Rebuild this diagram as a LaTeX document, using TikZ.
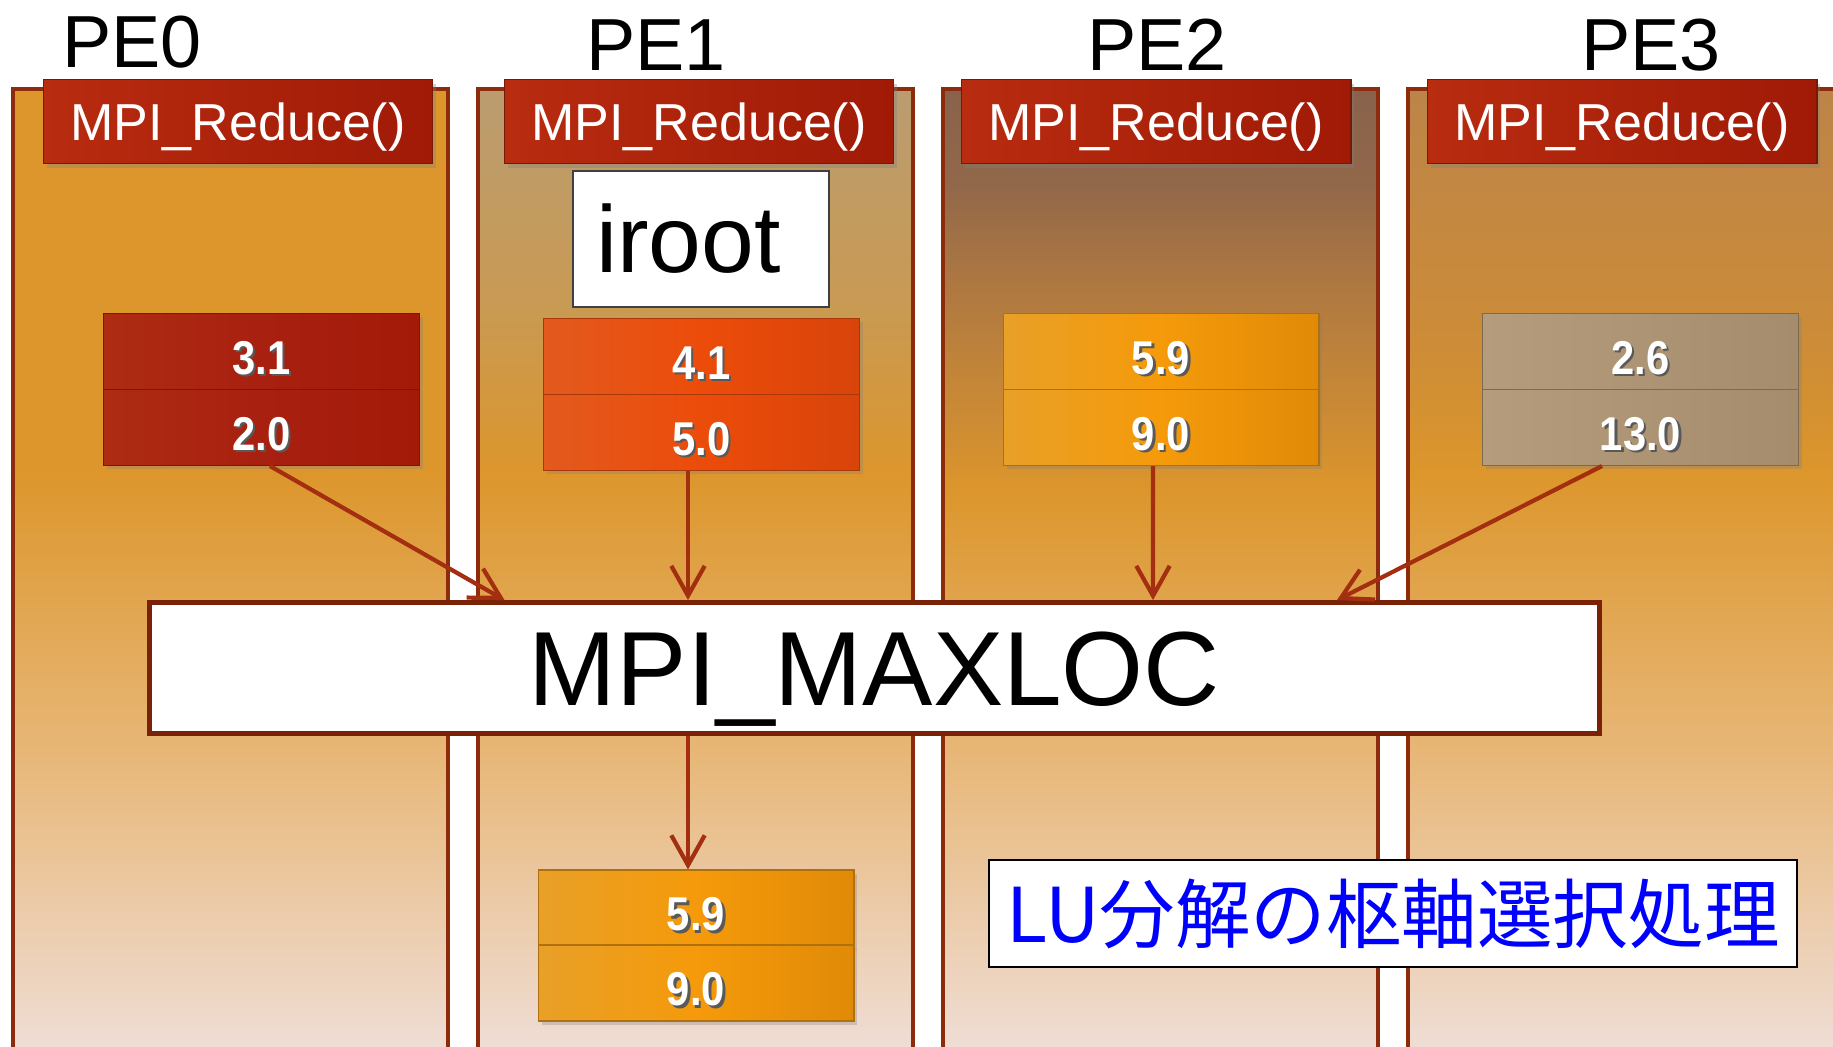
\documentclass[tikz,border=0pt]{standalone}
\usepackage{fontspec}
\setmainfont{Liberation Sans}
\newfontfamily\jpfont{Noto Sans CJK JP}
\newfontfamily\numfont[FakeStretch=0.88]{Liberation Sans}
\usetikzlibrary{arrows.meta,shadows,calc}

\definecolor{colframe}{HTML}{8C2C0C}
\definecolor{pale}{HTML}{EFDDD5}
\definecolor{midtan}{HTML}{E8B87A}
\definecolor{orng}{HTML}{DC962C}
\definecolor{tantop}{HTML}{BA9C70}
\definecolor{tanmid}{HTML}{C89A54}
\definecolor{brntop}{HTML}{88624C}
\definecolor{brnupper}{HTML}{92684A}
\definecolor{brnmid}{HTML}{B27A40}
\definecolor{amtop}{HTML}{BC8448}
\definecolor{ammid}{HTML}{CC8C38}
\definecolor{redl}{HTML}{B82C10}
\definecolor{redr}{HTML}{A01A06}
\definecolor{redframe}{HTML}{7A1808}
\definecolor{arrowred}{HTML}{A32E10}
\definecolor{maxframe}{HTML}{7A2208}
\definecolor{lublue}{HTML}{0000FF}
% value cells
\definecolor{crimL}{HTML}{AE2C12}
\definecolor{crimM}{HTML}{A82010}
\definecolor{crimR}{HTML}{A31A08}
\definecolor{flameL}{HTML}{E25A1E}
\definecolor{flameM}{HTML}{EC4C0A}
\definecolor{flameR}{HTML}{D8440A}
\definecolor{flameF}{HTML}{A8380A}
\definecolor{ambL}{HTML}{E8A028}
\definecolor{ambM}{HTML}{F59A0A}
\definecolor{ambR}{HTML}{E08A08}
\definecolor{ambF}{HTML}{B07010}
\definecolor{khakiL}{HTML}{B49C7C}
\definecolor{khakiM}{HTML}{AC9474}
\definecolor{khakiR}{HTML}{A48C6C}
\definecolor{khakiF}{HTML}{7E6A50}

% column backgrounds (bottom -> top)
\pgfdeclareverticalshading{colzero}{100bp}{color(0bp)=(pale); color(25bp)=(pale);
  color(40bp)=(midtan); color(55bp)=(orng); color(75bp)=(orng); color(100bp)=(orng)}
\pgfdeclareverticalshading{colone}{100bp}{color(0bp)=(pale); color(25bp)=(pale);
  color(40bp)=(midtan); color(55bp)=(orng); color(64bp)=(tanmid); color(75bp)=(tantop); color(100bp)=(tantop)}
\pgfdeclareverticalshading{coltwo}{100bp}{color(0bp)=(pale); color(25bp)=(pale);
  color(40bp)=(midtan); color(54bp)=(orng); color(64bp)=(brnmid); color(70bp)=(brnupper); color(75bp)=(brntop); color(100bp)=(brntop)}
\pgfdeclareverticalshading{colthree}{100bp}{color(0bp)=(pale); color(25bp)=(pale);
  color(40bp)=(midtan); color(55bp)=(orng); color(62bp)=(ammid); color(75bp)=(amtop); color(100bp)=(amtop)}

% white digits with a dark shadow
\newcommand\emb[1]{\makebox[0pt][l]{\hspace{1.3pt}\raisebox{-1.3pt}{\textcolor{black!65}{#1}}}#1}

\begin{document}
\begin{tikzpicture}[x=0.02cm,y=-0.02cm,
  pelabel/.style={font=\fontsize{42}{46}\selectfont, anchor=base, inner sep=0pt},
  reducebox/.style={draw=redframe, line width=0.6pt, left color=redl, right color=redr,
    text=white, minimum width=7.8cm, minimum height=1.68cm, inner sep=0pt,
    text height=21.2pt, text depth=0pt, font=\fontsize{29.6}{32}\selectfont,
    drop shadow={opacity=0.35, shadow xshift=2pt, shadow yshift=-2.5pt}},
  cell/.style n args={4}{draw=#4, line width=0.6pt, left color=#1, right color=#3, middle color=#2,
    text=white, minimum width=6.32cm, minimum height=1.52cm, inner sep=0pt,
    text height=26pt, text depth=0pt, font=\numfont\bfseries\fontsize{27}{30}\selectfont,
    drop shadow={opacity=0.3, shadow xshift=2pt, shadow yshift=-2pt}},
  flow/.style={draw=arrowred, line width=2.4pt, -{Straight Barb[length=17pt,width=19pt]}},
]
\useasboundingbox (0,0) rectangle (1833,1046);
\clip (0,0) rectangle (1833,1046);
\fill[white] (0,0) rectangle (1833,1046);

% the four PE columns
\foreach \i/\sh in {0/colzero,1/colone,2/coltwo,3/colthree}
  \shadedraw[shading=\sh, draw=colframe, line width=2.3pt] (13+465*\i,89) rectangle ++(435,960);

\node[pelabel] (pe0) at (132,67) {PE0};
\node[pelabel] (pe1) at (656,70) {PE1};
\node[pelabel] (pe2) at (1157,70) {PE2};
\node[pelabel] (pe3) at (1651,70) {PE3};

\foreach \i/\x in {0/238,1/699,2/1156,3/1622}
  \node[reducebox] (mpi\i) at (\x,121.5) {MPI\_Reduce()};

\node[draw=black!75, line width=0.8pt, fill=white, text width=4.2cm, inner xsep=0.46cm,
  minimum height=2.72cm, align=left, font=\fontsize{54}{58}\selectfont] (iroot) at (701,239) {iroot};

% local values
\node[cell={crimL}{crimM}{crimR}{redframe}] (v0t) at (261.5,351.5) {\emb{3.1}};
\node[cell={crimL}{crimM}{crimR}{redframe}] (v0b) at (261.5,427.5) {\emb{2.0}};
\node[cell={flameL}{flameM}{flameR}{flameF}] (v1t) at (701.5,356.5) {\emb{4.1}};
\node[cell={flameL}{flameM}{flameR}{flameF}] (v1b) at (701.5,432.5) {\emb{5.0}};
\node[cell={ambL}{ambM}{ambR}{ambF}] (v2t) at (1161,351.5) {\emb{5.9}};
\node[cell={ambL}{ambM}{ambR}{ambF}] (v2b) at (1161,427.5) {\emb{9.0}};
\node[cell={khakiL}{khakiM}{khakiR}{khakiF}] (v3t) at (1640.5,351.5) {\emb{2.6}};
\node[cell={khakiL}{khakiM}{khakiR}{khakiF}] (v3b) at (1640.5,427.5) {\emb{13.0}};

\node[draw=maxframe, line width=2.8pt, fill=white, minimum width=29cm, minimum height=2.62cm,
  text height=43pt, text depth=0pt, font=\fontsize{60}{64}\selectfont] (maxloc) at (874.5,668) {MPI\_MAXLOC};

\draw[flow] ($(v0b.south)+(8.5,0)$) -- ($(maxloc.north)+(-370,0)$);
\draw[flow] ($(v1b.south)+(-13.5,0)$) -- ($(maxloc.north)+(-186.5,0)$);
\draw[flow] ($(v2b.south)+(-8,0)$) -- ($(maxloc.north)+(278.5,0)$);
\draw[flow] ($(v3b.south)+(-38.5,0)$) -- ($(maxloc.north)+(462.5,0)$);

% result on iroot
\node[cell={ambL}{ambM}{ambR}{ambF}] (r0t) at (696,908) {\emb{5.9}};
\node[cell={ambL}{ambM}{ambR}{ambF}] (r0b) at (696,983) {\emb{9.0}};
\draw[flow] ($(maxloc.south)+(-186.5,0)$) -- ($(r0t.north)+(-8,0)$);

\node[draw=black, line width=1.1pt, fill=white, minimum width=16.16cm, minimum height=2.14cm,
  inner xsep=0.2cm, text=lublue, font=\jpfont\fontsize{43}{46}\selectfont] (lu) at (1393,913.5) {LU分解の枢軸選択処理};
\end{tikzpicture}
\end{document}
